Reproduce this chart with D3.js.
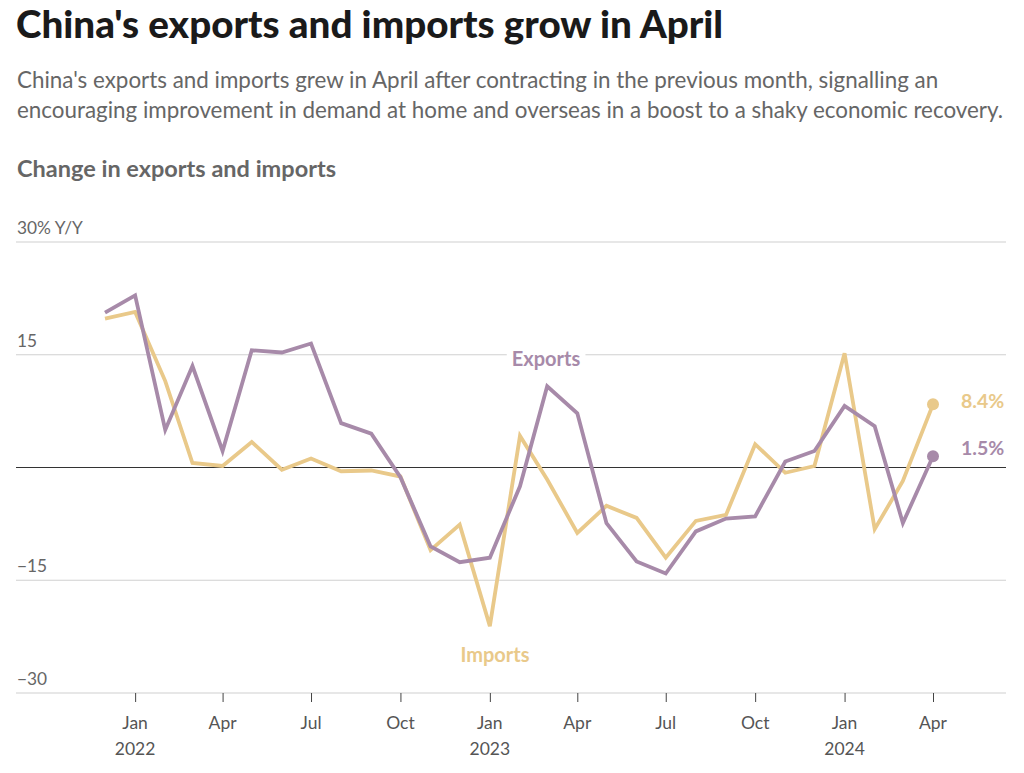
<!DOCTYPE html>
<html><head><meta charset="utf-8">
<script src="https://cdn.jsdelivr.net/npm/d3@7"></script>
<style>
body{margin:0;background:#fff;}
svg{display:block;}
text{font-family:Lato,"Open Sans",sans-serif;}
</style></head>
<body><svg id="c" width="1024" height="773"></svg>
<script>
const months = ["2021-12","2022-01","2022-02","2022-03","2022-04","2022-05","2022-06","2022-07","2022-08","2022-09","2022-10","2022-11","2022-12","2023-01","2023-02","2023-03","2023-04","2023-05","2023-06","2023-07","2023-08","2023-09","2023-10","2023-11","2023-12","2024-01","2024-02","2024-03","2024-04"];
const exportsYY = [20.6,22.9,5.0,13.5,2.2,15.6,15.3,16.5,5.9,4.5,-1.3,-10.5,-12.6,-12.0,-2.5,10.8,7.2,-7.4,-12.5,-14.1,-8.5,-6.8,-6.5,0.8,2.2,8.2,5.5,-7.4,1.5];
const importsYY = [19.8,20.7,11.5,0.6,0.2,3.4,-0.3,1.2,-0.5,-0.4,-1.2,-11.0,-7.6,-21.1,4.2,-1.6,-8.7,-5.1,-6.7,-12.0,-7.1,-6.3,3.1,-0.7,0.2,15.2,-8.2,-1.8,8.4];
const yTicks = [30,15,0,-15,-30];
const xTickMonths = ["2022-01","2022-04","2022-07","2022-10","2023-01","2023-04","2023-07","2023-10","2024-01","2024-04"];

const title = "China's exports and imports grow in April";
const subtitle = ["China's exports and imports grew in April after contracting in the previous month, signalling an",
  "encouraging improvement in demand at home and overseas in a boost to a shaky economic recovery."];
const chartTitle = "Change in exports and imports";

const purple = "#a78aa9", gold = "#e9c98a";
const parse = d3.timeParse("%Y-%m");
const dates = months.map(parse);

const svg = d3.select("#c");
svg.append("text").attr("x",16).attr("y",38).attr("font-size",38.6).attr("font-weight",900).attr("fill","#1a1a1a").text(title);
subtitle.forEach((s,i)=>svg.append("text").attr("x",17).attr("y",88+i*30).attr("font-size",22.4).attr("fill","#666").text(s));
svg.append("text").attr("x",17).attr("y",177).attr("font-size",23.5).attr("font-weight",700).attr("fill","#666").text(chartTitle);

const x = d3.scaleTime().domain([parse("2021-12"),parse("2024-04")]).range([105,933]);
const y = d3.scaleLinear().domain([-30,30]).range([693,242]);
const gl = 16, gr = 1006;

// gridlines
yTicks.forEach(t=>{
  svg.append("line").attr("x1",gl).attr("x2",gr).attr("y1",y(t)).attr("y2",y(t))
    .attr("stroke", t===0? "#333":"#d0d0d0").attr("stroke-width", 1.2);
  if(t!==0){
    svg.append("text").attr("x",17).attr("y",y(t)-8).attr("font-size",17.3).attr("fill","#666")
      .text(t===30? "30% Y/Y" : (t<0? "\u2212"+Math.abs(t) : t));
  }
});

// x axis
const xAxis = d3.axisBottom(x).tickValues(xTickMonths.map(parse)).tickSize(9).tickFormat("");
const gx = svg.append("g").attr("transform",`translate(0,${y(-30)})`).call(xAxis);
gx.select(".domain").remove();
gx.selectAll(".tick line").attr("stroke","#444");
xTickMonths.forEach(m=>{
  const d = parse(m);
  svg.append("text").attr("x",x(d)).attr("y",729).attr("text-anchor","middle").attr("font-size",17.5).attr("fill","#555")
    .text(d3.timeFormat("%b")(d));
  if(d.getMonth()===0) svg.append("text").attr("x",x(d)).attr("y",755).attr("text-anchor","middle").attr("font-size",17.5).attr("fill","#555").text(d.getFullYear());
});

// Exports label with white bg
const exLabel = svg.append("text").attr("x",546).attr("y",366).attr("text-anchor","middle").attr("font-size",20).attr("font-weight",700).attr("fill",purple).text("Exports");
const bb = exLabel.node().getBBox();
svg.insert("rect", () => exLabel.node()).attr("x",bb.x-5).attr("y",bb.y).attr("width",bb.width+10).attr("height",bb.height).attr("fill","#fff");

const line = d3.line().x((d,i)=>x(dates[i])).y(d=>y(d));
svg.append("path").datum(importsYY).attr("d",line).attr("fill","none").attr("stroke",gold).attr("stroke-width",3.8).attr("stroke-linejoin","miter");
svg.append("path").datum(exportsYY).attr("d",line).attr("fill","none").attr("stroke",purple).attr("stroke-width",3.8).attr("stroke-linejoin","miter");

const last = dates.length-1;
svg.append("circle").attr("cx",x(dates[last])).attr("cy",y(importsYY[last])).attr("r",6).attr("fill",gold);
svg.append("circle").attr("cx",x(dates[last])).attr("cy",y(exportsYY[last])).attr("r",6).attr("fill",purple);
svg.append("text").attr("x",961).attr("y",y(importsYY[last])+4).attr("font-size",19.5).attr("font-weight",700).attr("fill",gold).text(importsYY[last].toFixed(1)+"%");
svg.append("text").attr("x",961).attr("y",y(exportsYY[last])-1).attr("font-size",19.5).attr("font-weight",700).attr("fill",purple).text(exportsYY[last].toFixed(1)+"%");

svg.append("text").attr("x",495).attr("y",662).attr("text-anchor","middle").attr("font-size",20).attr("font-weight",700).attr("fill",gold).text("Imports");
</script></body></html>
